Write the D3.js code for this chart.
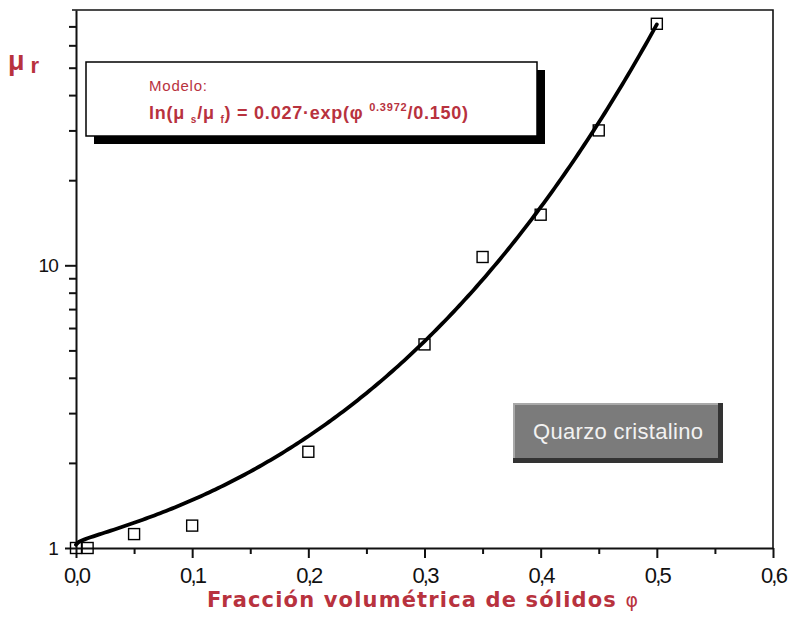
<!DOCTYPE html>
<html>
<head>
<meta charset="utf-8">
<script src="https://cdn.jsdelivr.net/npm/d3@7"></script>
<style>
  html, body { margin: 0; padding: 0; background: #fff; }
  svg { display: block; font-family: Arial, "Liberation Sans", sans-serif; }
</style>
</head>
<body>
<svg id="chart" width="792" height="629"></svg>
<script>
// Measured relative viscosity of crystalline quartz suspensions
const phiValues = [0.0, 0.01, 0.05, 0.10, 0.20, 0.30, 0.35, 0.40, 0.45, 0.50];
const muValues  = [1.0, 1.0, 1.12, 1.20, 2.19, 5.25, 10.7, 15.1, 30.0, 71.5];

// Fitted model parameters: ln(mu_s/mu_f) = A * exp(phi^B / C)
const modelA = 0.027, modelB = 0.3972, modelC = 0.150;

const xTickValues = [0, 0.1, 0.2, 0.3, 0.4, 0.5, 0.6];
const xTickLabels = ["0,0", "0,1", "0,2", "0,3", "0,4", "0,5", "0,6"];
const xMinorTicks = [0.05, 0.15, 0.25, 0.35, 0.45, 0.55];
const yTickValues = [1, 10];
const yTickLabels = ["1", "10"];
const yMinorTicks = [2, 3, 4, 5, 6, 7, 8, 9, 20, 30, 40, 50, 60, 70];

const red = "#b8323e";
const font = "Arial, 'Liberation Sans', sans-serif";
const svg = d3.select("#chart");
const plot = { left: 76, right: 773, top: 10, bottom: 548 };

const x = d3.scaleLinear().domain([0, 0.6]).range([plot.left, plot.right]);
const y = d3.scaleLog().domain([1, 80]).range([plot.bottom, plot.top]);

// Stretch or squeeze a text element's letter spacing so it spans a given width
function fitWidth(sel, width) {
  const node = sel.node();
  const w = node.getComputedTextLength();
  const n = node.textContent.length;
  sel.attr("letter-spacing", (width - w) / Math.max(1, n - 1));
}

// Frame: top and right edges
svg.append("path")
  .attr("d", `M${plot.left - 4},${plot.top}H${plot.right}V${plot.bottom}`)
  .attr("fill", "none").attr("stroke", "#111").attr("stroke-width", 1.6);

// Bottom axis
const xAxis = svg.append("g").attr("transform", `translate(0,${plot.bottom})`);
xAxis.call(d3.axisBottom(x).tickValues(xTickValues)
  .tickFormat((d, i) => xTickLabels[i]).tickSize(10).tickSizeOuter(0).tickPadding(9));
xAxis.append("g").call(d3.axisBottom(x).tickValues(xMinorTicks).tickFormat("").tickSize(6))
  .select(".domain").remove();
xAxis.selectAll(".domain").attr("stroke-width", 2).attr("stroke", "#111");
xAxis.selectAll(".tick line").attr("stroke-width", 2).attr("stroke", "#111");
xAxis.selectAll(".tick text").attr("font-size", 22).attr("letter-spacing", -1.8)
  .attr("fill", "#111").attr("font-family", font);

// Left axis
const yAxis = svg.append("g").attr("transform", `translate(${plot.left},0)`);
yAxis.call(d3.axisLeft(y).tickValues(yTickValues)
  .tickFormat((d, i) => yTickLabels[i]).tickSize(11).tickSizeOuter(0).tickPadding(7));
yAxis.append("g").call(d3.axisLeft(y).tickValues(yMinorTicks).tickFormat("").tickSize(7))
  .select(".domain").remove();
yAxis.selectAll(".domain").attr("stroke-width", 2).attr("stroke", "#111");
yAxis.selectAll(".tick line").attr("stroke-width", 2).attr("stroke", "#111");
yAxis.selectAll(".tick text").attr("font-size", 19).attr("letter-spacing", -0.8)
  .attr("fill", "#111").attr("font-family", font);

// Model curve
const modelPhi = d3.range(0, 0.5001, 0.0025);
const modelMu = modelPhi.map(p => Math.exp(modelA * Math.exp(Math.pow(p, modelB) / modelC)));
svg.append("path")
  .datum(modelPhi.map((p, i) => [p, modelMu[i]]))
  .attr("fill", "none").attr("stroke", "#000").attr("stroke-width", 3.8)
  .attr("stroke-linecap", "round")
  .attr("d", d3.line().x(d => x(d[0])).y(d => y(d[1])));

// Measured points
const sq = 11;
svg.append("g").selectAll("rect")
  .data(phiValues.map((p, i) => [p, muValues[i]]))
  .join("rect")
  .attr("x", d => x(d[0]) - sq / 2).attr("y", d => y(d[1]) - sq / 2)
  .attr("width", sq).attr("height", sq)
  .attr("fill", "none").attr("stroke", "#000").attr("stroke-width", 1.4);

// Model legend box with drop shadow
const box = svg.append("g");
box.append("rect").attr("x", 94).attr("y", 70).attr("width", 451).attr("height", 74).attr("fill", "#000");
box.append("rect").attr("x", 86).attr("y", 62).attr("width", 451).attr("height", 74)
  .attr("fill", "#fff").attr("stroke", "#000").attr("stroke-width", 1.5);
const modelo = box.append("text").attr("x", 149).attr("y", 91).attr("fill", red)
  .attr("font-size", 15).text("Modelo:");
fitWidth(modelo, 58);
const f = box.append("text").attr("x", 149).attr("y", 119).attr("fill", red)
  .attr("font-size", 18).attr("font-weight", "bold");
f.append("tspan").text("ln(\u03bc ");
f.append("tspan").attr("font-size", 10).attr("dy", 4).text("s");
f.append("tspan").attr("dy", -4).text("/\u03bc ");
f.append("tspan").attr("font-size", 10).attr("dy", 4).text("f");
f.append("tspan").attr("dy", -4).text(") = 0.027\u00b7exp(\u03c6 ");
f.append("tspan").attr("font-size", 11).attr("dy", -8).text("0.3972");
f.append("tspan").attr("dy", 8).text("/0.150)");
fitWidth(f, 319);

// Sample label plate
const plate = svg.append("g");
plate.append("rect").attr("x", 513).attr("y", 403).attr("width", 210).attr("height", 60).attr("fill", "#333");
plate.append("rect").attr("x", 513).attr("y", 403).attr("width", 205).attr("height", 55).attr("fill", "#a9a9a9");
plate.append("rect").attr("x", 515).attr("y", 405).attr("width", 203).attr("height", 53).attr("fill", "#7b7b7b");
const plateText = plate.append("text").attr("x", 533).attr("y", 439)
  .attr("fill", "#f2f2f2").attr("font-size", 22).text("Quarzo cristalino");
fitWidth(plateText, 170);

// Axis titles
const yt = svg.append("text").attr("x", 8).attr("y", 70).attr("fill", red).attr("font-weight", "bold");
yt.append("tspan").attr("font-size", 27).text("\u03bc");
yt.append("tspan").attr("font-size", 22).attr("dx", 6).attr("dy", 3).text("r");

const xt = svg.append("text").attr("x", 207).attr("y", 607)
  .attr("fill", red).attr("font-size", 21).attr("font-weight", "bold")
  .attr("font-family", "'DejaVu Sans', Arial, sans-serif");
xt.append("tspan").text("Fracción volumétrica de sólidos ");
xt.append("tspan").attr("font-weight", "normal").attr("font-size", 19).text("\u03c6");
fitWidth(xt, 431);
</script>
</body>
</html>
